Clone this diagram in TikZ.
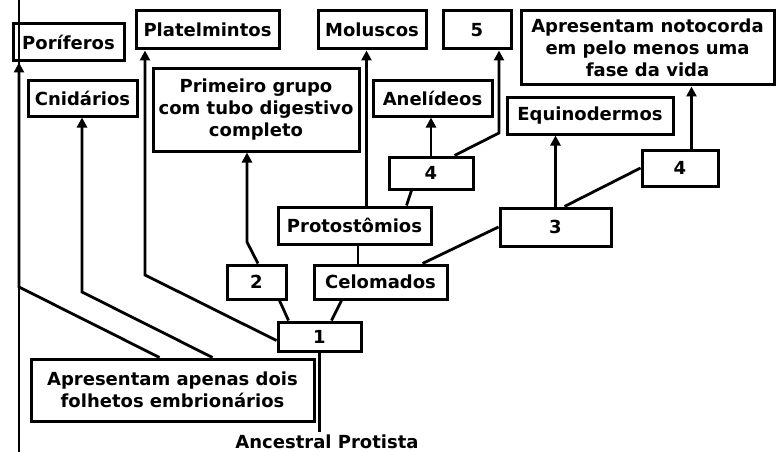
\documentclass[tikz,border=0pt]{standalone}
\usepackage{fontspec}
\setmainfont{DejaVu Sans}
\usepackage{tikz}
\usetikzlibrary{arrows.meta, positioning}
\tikzset{%
	taxon/.style={
		draw,
		line width=3pt,
		inner sep=0pt,
		align=center,
		font=\bfseries\fontsize{18}{22}\selectfont
	},
	branch/.style={
		line width=2.8pt
	},
	branch arrow/.style={
		branch,
		-{Triangle[length=10pt,width=10pt]}
	},
}

\begin{document}
\begin{tikzpicture}[x=1pt,y=-1pt]
	\useasboundingbox (0,0) rectangle (777,452);

	% Top row of groups
	\node[taxon, minimum width=111pt, minimum height=37pt] (porif) at (68.5,42.5) {Poríferos};
	\node[taxon, minimum width=143pt, minimum height=38pt] (plat) at (207.5,30) {Platelmintos};
	\node[taxon, minimum width=108pt, minimum height=38pt] (molus) at (372,30) {Moluscos};
	\node[taxon, minimum width=68pt, minimum height=38pt] (five) at (477,30) {5};
	\node[taxon, minimum width=253pt, minimum height=74pt] (noto) at (647.5,48) {Apresentam notocorda\\em pelo menos uma\\fase da vida};

	% Second row
	\node[taxon, minimum width=109pt, minimum height=35pt] (cnid) at (82.5,98.5) {Cnidários};
	\node[taxon, minimum width=206pt, minimum height=82pt] (prim) at (256,110) {Primeiro grupo\\com tubo digestivo\\completo};
	\node[taxon, minimum width=119pt, minimum height=35pt] (anel) at (432.5,98.5) {Anelídeos};
	\node[taxon, minimum width=166pt, minimum height=36pt] (equi) at (590,116) {Equinodermos};

	% Characters along the tree
	\node[taxon, minimum width=84pt, minimum height=32pt] (quatroA) at (431,173) {4};
	\node[taxon, minimum width=76pt, minimum height=36pt] (quatroB) at (680,168) {4};
	\node[taxon, minimum width=111pt, minimum height=38pt] (tres) at (555.5,227) {3};
	\node[taxon, minimum width=153pt, minimum height=37pt] (proto) at (354.5,225.5) {Protostômios};
	\node[taxon, minimum width=59pt, minimum height=34pt] (dois) at (256.5,282) {2};
	\node[taxon, minimum width=133pt, minimum height=34pt] (celom) at (380.5,282) {Celomados};
	\node[taxon, minimum width=83pt, minimum height=29pt] (um) at (319.5,336.5) {1};
	\node[taxon, minimum width=283pt, minimum height=62pt] (diplo) at (172.5,390) {Apresentam apenas dois\\folhetos embrionários};
	\node[taxon, draw=none, inner sep=2pt] (anc) at (327,442) {Ancestral Protista};

	% Left edge line
	\coordinate (edgeTop) at (19,0);
	\coordinate (edgeBot) at (19,452);
	\draw[branch] (edgeTop) -- (edgeBot);

	% Branches out of the lower box
	\coordinate (kP) at (19,287);
	\coordinate (kC) at (82,292);
	\draw[branch arrow] ([xshift=130pt]diplo.north west) -- (kP) -- (porif.south -| kP);
	\draw[branch arrow] ([xshift=183pt]diplo.north west) -- (kC) -- (cnid.south -| kC);

	% Branches out of 1
	\coordinate (kPl) at (145,275);
	\draw[branch arrow] ([yshift=-4pt]um.west) -- (kPl) -- (plat.south -| kPl);
	\draw[branch] ([xshift=12pt]um.north west) -- ([xshift=54pt]dois.south west);
	\draw[branch] ([xshift=55pt]um.north west) -- ([xshift=29pt]celom.south west);
	\draw[branch] (um.south) -- (um.south |- anc.north);

	% 2 to the digestive tube
	\coordinate (k2) at (247,242);
	\draw[branch arrow] ([xshift=1.5pt]dois.north) -- (k2) -- (prim.south -| k2);

	% Celomados
	\coordinate (cp) at ([xshift=3.5pt]proto.south);
	\draw[branch] (cp) -- (cp |- celom.north);
	\draw[branch] ([xshift=110pt]celom.north west) -- (tres.west);

	% Protostomios
	\coordinate (pm) at ([xshift=90pt]proto.north west);
	\draw[branch arrow] (pm) -- (pm |- molus.south);
	\draw[branch] ([xshift=130pt]proto.north west) -- ([xshift=24pt]quatroA.south west);
	\draw[branch arrow] (quatroA.north) -- (quatroA.north |- anel.south);
	\coordinate (k5) at (499,133);
	\draw[branch arrow] ([xshift=67pt]quatroA.north west) -- (k5) -- (five.south -| k5);

	% Deuterostomes side
	\draw[branch arrow] (tres.north) -- (tres.north |- equi.south);
	\draw[branch] ([xshift=66pt]tres.north west) -- (quatroB.west);
	\coordinate (qn) at ([xshift=51pt]quatroB.north west);
	\draw[branch arrow] (qn) -- (qn |- noto.south);
\end{tikzpicture}
\end{document}
